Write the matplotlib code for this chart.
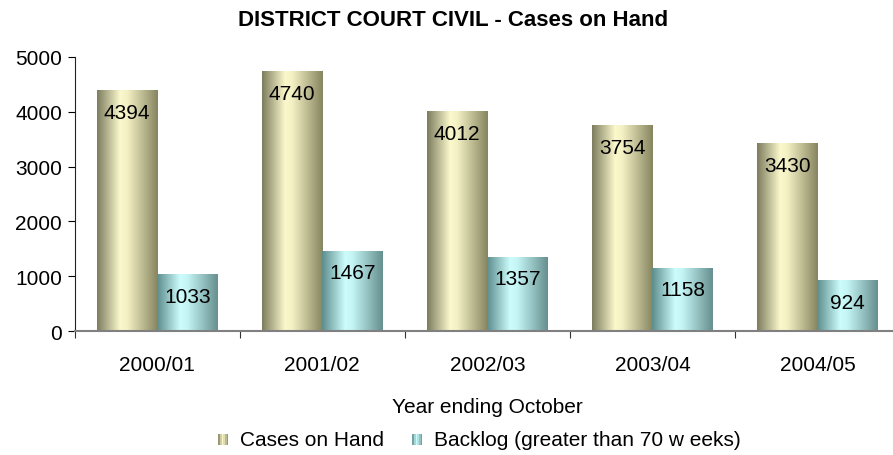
import numpy as np
import matplotlib.pyplot as plt
from matplotlib.colors import LinearSegmentedColormap
from matplotlib.patches import Rectangle
from matplotlib.legend_handler import HandlerBase

plt.rcParams['font.family'] = ['Liberation Sans', 'DejaVu Sans']

years = ['2000/01', '2001/02', '2002/03', '2003/04', '2004/05']
cases_on_hand = [4394, 4740, 4012, 3754, 3430]
backlog = [1033, 1467, 1357, 1158, 924]
series_names = ['Cases on Hand', 'Backlog (greater than 70 w eeks)']

# cylinder-like horizontal shading: dark edge - light band - dark edge
tan_cmap = LinearSegmentedColormap.from_list('tan', [
    (0.0, '#7c7c5e'), (0.38, '#fbf8cc'), (0.5, '#f4f0c4'), (1.0, '#85855f')])
cyan_cmap = LinearSegmentedColormap.from_list('cyan', [
    (0.0, '#5c8c8c'), (0.38, '#ccfcfc'), (0.5, '#c4f4f4'), (1.0, '#668f8f')])
grad = np.linspace(0, 1, 256).reshape(1, -1)


class GradHandler(HandlerBase):
    def __init__(self, cmap):
        super().__init__()
        self.cmap = cmap

    def create_artists(self, legend, orig_handle, xdescent, ydescent,
                       width, height, fontsize, trans):
        w = height * 0.7
        h = height * 0.7
        x0 = width / 2 - w / 2
        arts = []
        n = 6
        for i in range(n):
            r = Rectangle((x0 + i * w / n, -ydescent), w / n, h,
                          facecolor=self.cmap((i + 0.5) / n), edgecolor='none',
                          transform=trans)
            arts.append(r)
        return arts


fig = plt.figure(figsize=(8.93, 4.56), dpi=100)
ax = fig.add_axes([74.7 / 893, 1 - 332 / 456, (900 - 74.7) / 893, (332 - 58) / 456])

x = np.arange(len(years))
w = 0.367
b1 = ax.bar(x - w / 2, cases_on_hand, w, color='none', edgecolor='none')
b2 = ax.bar(x + w / 2, backlog, w, color='none', edgecolor='none')

for bars, cmap in [(b1, tan_cmap), (b2, cyan_cmap)]:
    for bar in bars:
        x0, y0 = bar.get_x(), bar.get_y()
        im = ax.imshow(grad, cmap=cmap, aspect='auto', interpolation='bilinear',
                       extent=[x0, x0 + bar.get_width(), y0, y0 + bar.get_height()],
                       zorder=2)
        im.set_clip_path(bar)
        ax.annotate(str(int(bar.get_height())),
                    (x0 + bar.get_width() / 2, y0 + bar.get_height()),
                    xytext=(0, -16), textcoords='offset points',
                    ha='center', va='center', fontsize=15, color='black', zorder=3)

ax.set_xlim(-0.5, 4.5)
ax.set_ylim(0, 5000)
ax.set_yticks(np.arange(0, 5001, 1000))
ax.set_xticks(np.arange(-0.5, 4.6, 1))
ax.set_xticklabels([])
ax.set_xticks(x, minor=True)
ax.set_xticklabels(years, minor=True)
ax.tick_params(axis='x', which='minor', length=0, pad=17, labelsize=15)
ax.tick_params(axis='x', which='major', length=5, direction='out', color='#333333')
ax.tick_params(axis='y', length=5, direction='out', labelsize=15, pad=4)

for s in ['top', 'right']:
    ax.spines[s].set_visible(False)
ax.spines['left'].set_color('#222222')
ax.spines['bottom'].set_color('#808080')
ax.spines['bottom'].set_linewidth(1.5)

ax.set_xlabel('Year ending October', fontsize=15, labelpad=17)
fig.suptitle('DISTRICT COURT CIVIL - Cases on Hand', x=0.507, y=0.978,
             fontsize=16, fontweight='bold')

h1 = Rectangle((0, 0), 1, 1)
h2 = Rectangle((0, 0), 1, 1)
fig.legend([h1, h2], series_names, loc='center', bbox_to_anchor=(0.535, 0.035),
           ncol=2, frameon=False, fontsize=15, handlelength=0.8,
           handletextpad=0.4, columnspacing=1.2,
           handler_map={h1: GradHandler(tan_cmap), h2: GradHandler(cyan_cmap)})

fig.savefig('out.png', dpi=100)
